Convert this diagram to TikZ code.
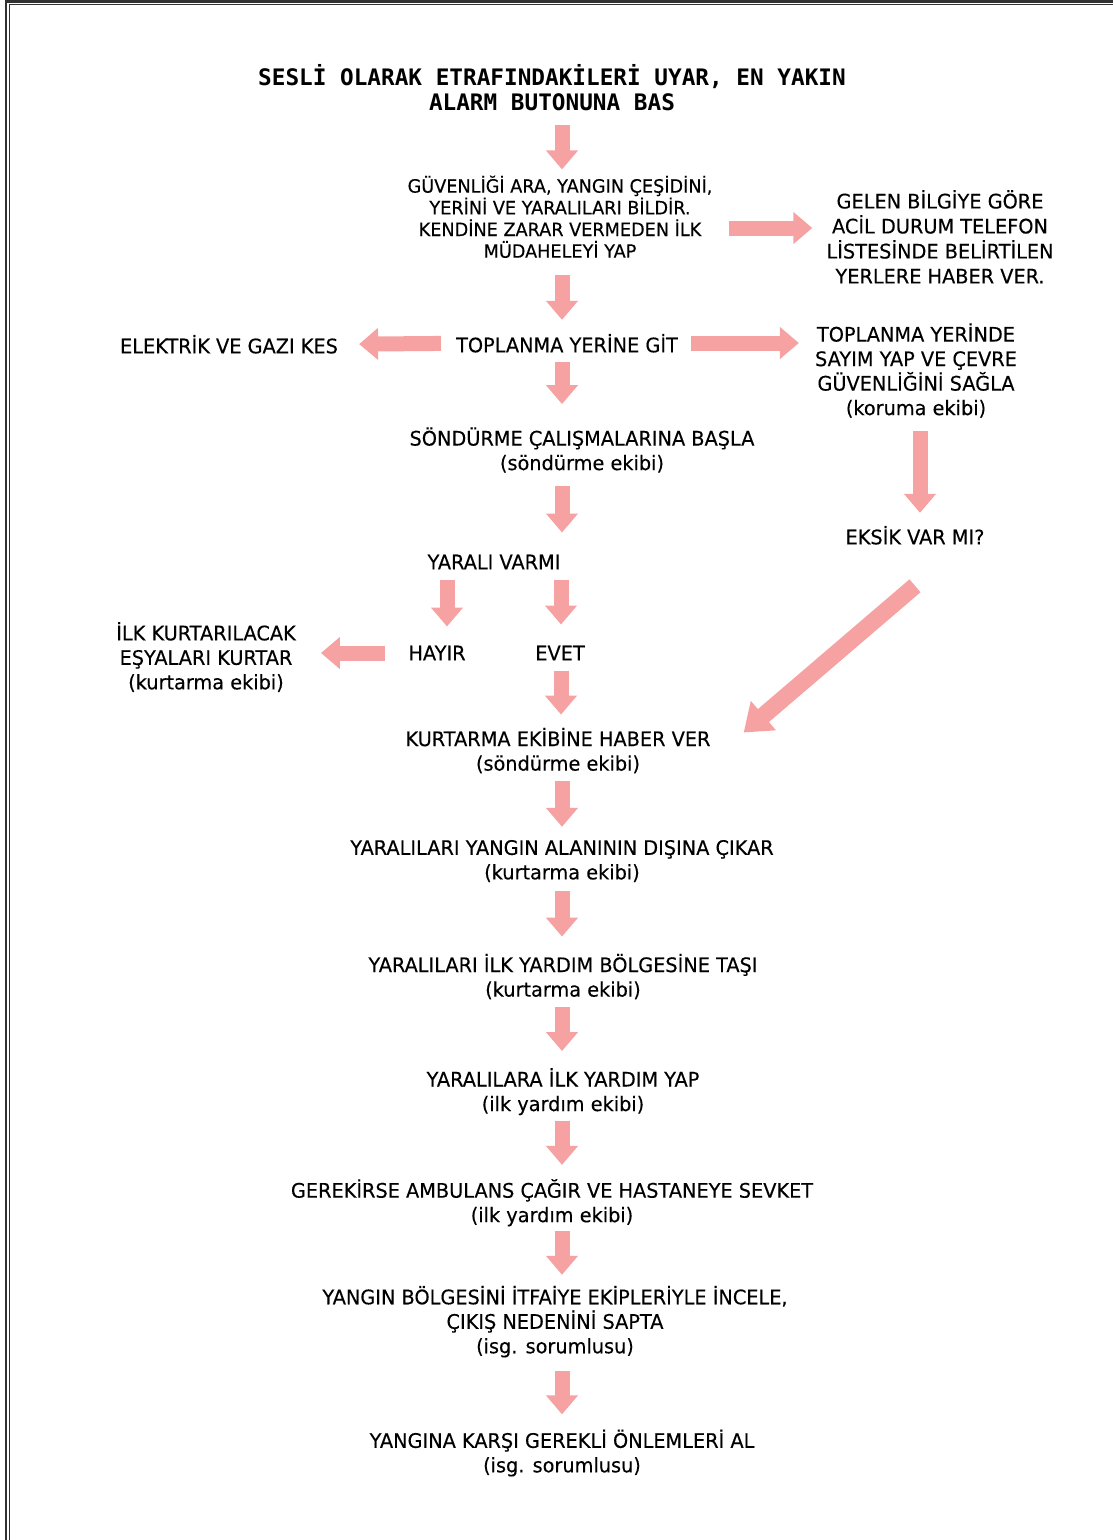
\documentclass[tikz,border=0pt]{standalone}
\usepackage{fontspec}
\setmainfont{DejaVu Sans}[FakeStretch=0.965,FakeBold=0.3]
\newfontfamily\titlefont{DejaVu Sans Mono}[FakeStretch=1.0]
\usetikzlibrary{arrows.meta,calc}
\definecolor{arrowpink}{RGB}{247,162,162}
\definecolor{framegray}{RGB}{50,50,50}
\tikzset{
  txt/.style={align=center,inner sep=0pt,text=black,font=\fontsize{20}{24.5}\selectfont},
  ttl/.style={align=center,inner sep=0pt,text=black,font=\titlefont\bfseries\fontsize{22.7}{25}\selectfont},
  arr/.style={draw=arrowpink,line width=15pt,-{Triangle[width=31pt,length=19pt]}},
  darr/.style={draw=arrowpink,line width=17pt,-{Triangle[width=37pt,length=26pt]}},
}
\begin{document}
\begin{tikzpicture}[x=1pt,y=-1pt]
\useasboundingbox (0,0) rectangle (1113,1540);
% frame
\draw[framegray,line width=2.5pt] (6,1545) -- (6,1.5) -- (1118,1.5);
\draw[framegray,line width=1pt] (9,1545) -- (9,4.5) -- (1118,4.5);
% columns
\coordinate (c562) at (562,0);
\coordinate (c447) at (447,0);
\coordinate (c561) at (561,0);
\coordinate (c920) at (920,0);
% nodes
\node[ttl] (title) at (552,87.5) {SESLİ OLARAK ETRAFINDAKİLERİ UYAR, EN YAKIN\\ALARM BUTONUNA BAS};
\node[txt,font=\fontsize{18.3}{21.7}\selectfont] (g) at (560,216.8) {GÜVENLİĞİ ARA, YANGIN ÇEŞİDİNİ,\\YERİNİ VE YARALILARI BİLDİR.\\KENDİNE ZARAR VERMEDEN İLK\\MÜDAHELEYİ YAP};
\node[txt,font=\fontsize{20}{25}\selectfont] (gelen) at (940,236.8) {GELEN BİLGİYE GÖRE\\ACİL DURUM TELEFON\\LİSTESİNDE BELİRTİLEN\\YERLERE HABER VER.};
\node[txt] (top) at (567,343.3) {TOPLANMA YERİNE GİT};
\node[txt] (elek) at (229,344.3) {ELEKTRİK VE GAZI KES};
\node[txt] (topy) at (916,370.5) {TOPLANMA YERİNDE\\SAYIM YAP VE ÇEVRE\\GÜVENLİĞİNİ SAĞLA\\(koruma ekibi)};
\node[txt] (eksik) at (915,535.3) {EKSİK VAR MI?};
\node[txt] (sond) at (582,450) {SÖNDÜRME ÇALIŞMALARINA BAŞLA\\(söndürme ekibi)};
\node[txt] (yv) at (494,562) {YARALI VARMI};
\node[txt] (hayir) at (437,653) {HAYIR};
\node[txt] (evet) at (560,653) {EVET};
\node[txt] (ilk) at (206,657) {İLK KURTARILACAK\\EŞYALARI KURTAR\\(kurtarma ekibi)};
\node[txt] (kurt) at (558,750.5) {KURTARMA EKİBİNE HABER VER\\(söndürme ekibi)};
\node[txt] (n1) at (562,861) {YARALILARI YANGIN ALANININ DIŞINA ÇIKAR\\(kurtarma ekibi)};
\node[txt] (n2) at (563,976.5) {YARALILARI İLK YARDIM BÖLGESİNE TAŞI\\(kurtarma ekibi)};
\node[txt] (n3) at (563,1091.7) {YARALILARA İLK YARDIM YAP\\(ilk yardım ekibi)};
\node[txt] (n4) at (552,1202.7) {GEREKİRSE AMBULANS ÇAĞIR VE HASTANEYE SEVKET\\(ilk yardım ekibi)};
\node[txt] (n5) at (555,1321.7) {YANGIN BÖLGESİNİ İTFAİYE EKİPLERİYLE İNCELE,\\ÇIKIŞ NEDENİNİ SAPTA\\(isg. sorumlusu)};
\node[txt] (n6) at (562,1453) {YANGINA KARŞI GEREKLİ ÖNLEMLERİ AL\\(isg. sorumlusu)};
% arrows
\draw[arr,shorten <=14pt,shorten >=6pt] (title.south -| c562) -- (g.north -| c562);
\draw[arr,shorten <=16pt,shorten >=14pt] (g.east |- 0,228) -- (gelen.west |- 0,228);
\draw[arr,shorten <=17pt,shorten >=14pt] (g.south -| c562) -- (top.north -| c562);
\draw[arr,shorten <=15pt,shorten >=21pt] (top.west) -- (elek.east);
\draw[arr,shorten <=13pt,shorten >=16pt] (top.east |- 0,343) -- (topy.west |- 0,343);
\draw[arr,shorten <=13pt,shorten >=13pt] (topy.south -| c920) -- (eksik.north -| c920);
\draw[arr,shorten <=9pt,shorten >=23pt] (top.south -| c562) -- (sond.north -| c562);
\draw[arr,shorten <=13pt,shorten >=22pt] (sond.south -| c562) -- (yv.north -| c562);
\draw[arr,shorten <=11pt,shorten >=19pt] (yv.south -| c447) -- (hayir.north -| c447);
\draw[arr,shorten <=11pt,shorten >=21pt] (yv.south -| c561) -- (evet.north -| c561);
\draw[arr,shorten <=23pt,shorten >=25pt] (hayir.west) -- (ilk.east |- hayir.west);
\draw[arr,shorten <=10pt,shorten >=13pt] (evet.south -| c561) -- (kurt.north -| c561);
\draw[darr] ($(eksik.south)+(0,41)$) -- ($(kurt.east)+(33,-18)$);
\draw[arr,shorten <=8pt,shorten >=13pt] (kurt.south -| c562) -- (n1.north -| c562);
\draw[arr,shorten <=9pt,shorten >=17pt] (n1.south -| c562) -- (n2.north -| c562);
\draw[arr,shorten <=8pt,shorten >=17pt] (n2.south -| c562) -- (n3.north -| c562);
\draw[arr,shorten <=5.6pt,shorten >=14pt] (n3.south -| c562) -- (n4.north -| c562);
\draw[arr,shorten <=4.6pt,shorten >=11pt] (n4.south -| c562) -- (n5.north -| c562);
\draw[arr,shorten <=13.6pt,shorten >=15pt] (n5.south -| c562) -- (n6.north -| c562);
\end{tikzpicture}
\end{document}
